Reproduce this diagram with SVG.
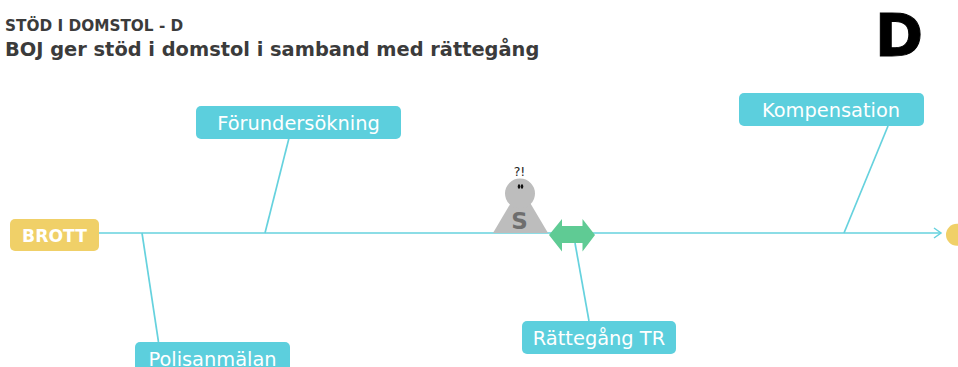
<svg xmlns="http://www.w3.org/2000/svg" width="958" height="367" viewBox="0 0 958 367">
<style>
text{font-family:"DejaVu Sans",Verdana,sans-serif}
.c{fill:none;stroke:#66d2de;stroke-width:1.7}
.b{fill:#5ccfdd}
.y{fill:#f0d068}
.l{fill:#fff;font-size:19.400px;text-anchor:middle}
.h{fill:#3b3b3b;font-weight:bold}
</style>
<defs><marker id="a" markerUnits="userSpaceOnUse" markerWidth="12" markerHeight="14" refX="9" refY="7" orient="auto"><path d="M2 2L9 7L2 12" fill="none" stroke="#66d2de" stroke-width="1.500"/></marker></defs>
<rect width="958" height="367" fill="#fff"/>
<g id="title">
<text class="h" x="5" y="31" font-size="15.300">STÖD I DOMSTOL - D</text>
<text class="h" x="5" y="56" font-size="19.400">BOJ ger stöd i domstol i samband med rättegång</text>
<text x="899" y="56" font-size="58" font-weight="bold" text-anchor="middle" fill="#000" stroke="#000" stroke-width="1">D</text>
</g>
<g id="connectors">
<path class="c" d="M99 233H941" marker-end="url(#a)"/>
<path class="c" d="M289 138L265 233"/>
<path class="c" d="M142 233L158.500 342"/>
<path class="c" d="M888 126L844 233"/>
<path class="c" d="M575 243L589 321"/>
</g>
<g id="brott"><rect class="y" x="10" y="219" width="89" height="32" rx="5"/><text x="54.500" y="242" font-size="17.200" font-weight="bold" fill="#fff" text-anchor="middle">BROTT</text></g>
<g id="forundersokning"><rect class="b" x="196" y="106" width="205" height="33" rx="5"/><text class="l" x="298.500" y="130">Förundersökning</text></g>
<g id="kompensation"><rect class="b" x="739" y="93" width="185" height="33" rx="5"/><text class="l" x="831" y="117">Kompensation</text></g>
<g id="polisanmalan"><rect class="b" x="135" y="342" width="155" height="33" rx="5"/><text class="l" x="212.500" y="365.500">Polisanmälan</text></g>
<g id="rattegang"><rect class="b" x="522" y="321" width="154" height="33" rx="5"/><text class="l" x="599" y="345">Rättegång TR</text></g>
<g id="end"><circle class="y" cx="957" cy="234.800" r="11"/></g>
<g id="person">
<path d="M493 233L512 201H529L548 233Z" fill="#bdbdbd"/>
<circle cx="520" cy="193.500" r="15" fill="#bdbdbd"/>
<ellipse cx="519" cy="186.500" rx="1.300" ry="2.300" fill="#111"/><ellipse cx="522" cy="186.500" rx="1.300" ry="2.300" fill="#111"/>
<text x="519.500" y="176" font-size="12.500" fill="#222" text-anchor="middle">?!</text>
<text x="519.500" y="228.500" font-size="23" font-weight="bold" fill="#6e6e6e" text-anchor="middle">S</text>
</g>
<g id="double-arrow"><path d="M549 235L562 219V226H582.500V219L595 235L582.500 251.500V243H562V251.500Z" fill="#5fcb94"/></g>
</svg>
